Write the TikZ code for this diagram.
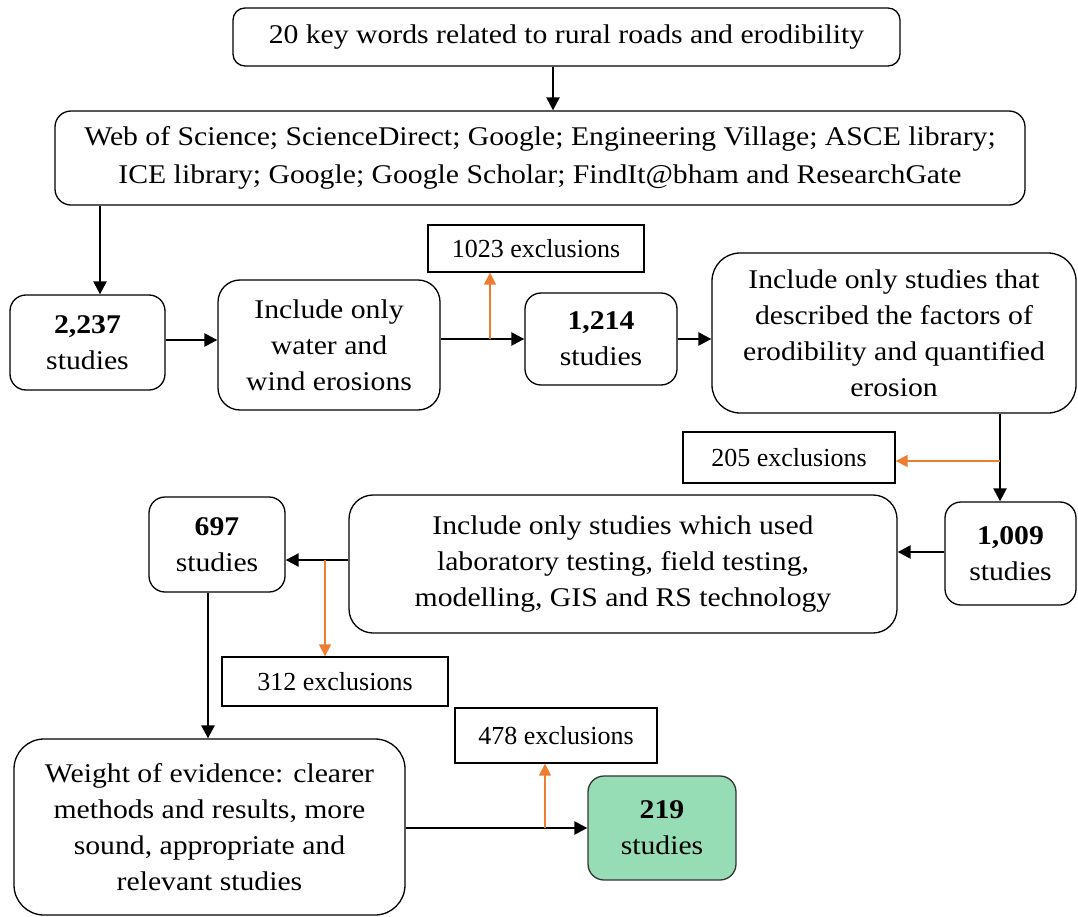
\documentclass[tikz,border=0pt]{standalone}
\usepackage{fontspec}
\setmainfont{Liberation Serif}
\newfontfamily\widef[FakeStretch=1.1]{Liberation Serif}
\usetikzlibrary{arrows.meta,calc}
\definecolor{orangeA}{RGB}{237,125,49}
\definecolor{greenA}{RGB}{150,221,181}
\begin{document}
\begin{tikzpicture}[x=1pt,y=-1pt,
 box/.style={draw, rounded corners=16pt, line width=1.3pt, align=center, font=\widef\fontsize{27}{36}\selectfont, inner sep=0pt},
 exbox/.style={draw, line width=1.3pt, align=center, font=\fontsize{26}{36}\selectfont, inner sep=0pt},
 arr/.style={line width=2.4pt, -{Triangle[length=13pt,width=13pt]}},
 oarr/.style={draw=orangeA, line width=1.5pt, -{Triangle[length=12pt,width=12pt]}, orangeA},
]
\useasboundingbox (0,0) rectangle (1078,917);
\node[box, rounded corners=12pt, minimum width=667pt, minimum height=58pt] (top) at (566.5,37) {20 key words related to rural roads and erodibility};
\node[box, rounded corners=16pt, minimum width=970pt, minimum height=94pt, font=\widef\fontsize{27}{38}\selectfont] (src) at (540,158) {Web of Science; ScienceDirect; Google; Engineering Village; ASCE library;\\ICE library; Google; Google Scholar; FindIt@bham and ResearchGate};
\node[box, minimum width=155pt, minimum height=95pt] (n2237) at (87.5,342.5) {\textbf{2,237}\\studies};
\node[box, rounded corners=22pt, minimum width=222pt, minimum height=130pt] (water) at (329,345) {Include only\\water and\\wind erosions};
\node[exbox, minimum width=216pt, minimum height=47pt] (ex1023) at (536,248.5) {1023 exclusions};
\node[box, minimum width=152pt, minimum height=92pt] (n1214) at (601,339) {\textbf{1,214}\\studies};
\node[box, rounded corners=28pt, minimum width=364pt, minimum height=160pt] (desc) at (894,333) {Include only studies that\\described the factors of\\erodibility and quantified\\erosion};
\node[exbox, minimum width=212pt, minimum height=51pt] (ex205) at (789,457.5) {205 exclusions};
\node[box, minimum width=131pt, minimum height=103pt] (n1009) at (1010.5,553.5) {\textbf{1,009}\\studies};
\node[box, rounded corners=24pt, minimum width=548pt, minimum height=138pt] (lab) at (623,564) {Include only studies which used\\laboratory testing, field testing,\\modelling, GIS and RS technology};
\node[box, minimum width=136pt, minimum height=95pt] (n697) at (217,544.5) {\textbf{697}\\studies};
\node[exbox, minimum width=226pt, minimum height=49pt] (ex312) at (335,681.5) {312 exclusions};
\node[box, rounded corners=30pt, minimum width=391pt, minimum height=176pt] (woe) at (209.5,827) {Weight of evidence: clearer\\methods and results, more\\sound, appropriate and\\relevant studies};
\node[exbox, minimum width=202pt, minimum height=55pt] (ex478) at (556,735.5) {478 exclusions};
\node[box, fill=greenA, draw=black!80, minimum width=148pt, minimum height=104pt] (n219) at (662,828) {\textbf{219}\\studies};
% connectors
\draw[arr] ([xshift=-13.5pt]top.south) -- ([xshift=-13.5pt]top.south |- src.north);
\draw[arr] ([xshift=12.5pt]n2237.north |- src.south) -- ([xshift=12.5pt]n2237.north);
\draw[arr] ([yshift=2.5pt]n2237.east) -- ([yshift=2.5pt]n2237.east -| water.west);
\draw[arr] (n1214.west -| water.east) -- (n1214.west);
\coordinate (j1) at (490,339);
\draw[oarr] (j1) -- (j1 |- ex1023.south);
\draw[arr] (n1214.east) -- (n1214.east -| desc.west);
\draw[arr] ([xshift=-10.5pt]n1009.north |- desc.south) -- ([xshift=-10.5pt]n1009.north);
\coordinate (j2) at (1000,461);
\draw[oarr] (j2) -- (j2 -| ex205.east);
\draw[arr] ([yshift=1.5pt]n1009.west) -- ([yshift=1.5pt]n1009.west -| lab.east);
\draw[arr] ([yshift=4pt]lab.west) -- ([yshift=4pt]lab.west -| n697.east);
\coordinate (j3) at (325,560);
\draw[oarr] (j3) -- (j3 |- ex312.north);
\draw[arr] ([xshift=-9pt]n697.south) -- ([xshift=-9pt]n697.south |- woe.north);
\draw[arr] (n219.west -| woe.east) -- (n219.west);
\coordinate (j4) at (545,828);
\draw[oarr] (j4) -- (j4 |- ex478.south);
\end{tikzpicture}
\end{document}
